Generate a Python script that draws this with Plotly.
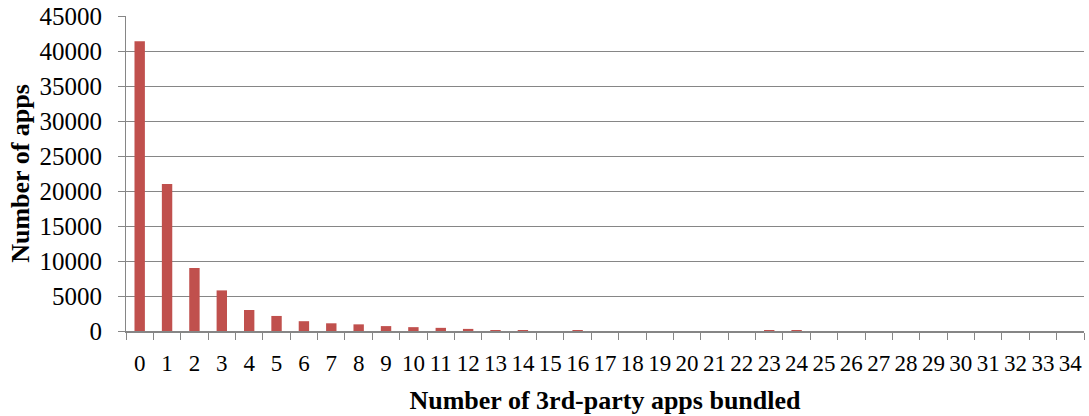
import plotly.graph_objects as go

categories = [str(i) for i in range(35)]
apps = [41400, 21000, 9000, 5800, 3000, 2150, 1400, 1100, 950, 700,
        550, 450, 300, 90, 60, 0, 30, 0, 0, 0,
        0, 0, 0, 20, 20, 0, 0, 0, 0, 0,
        0, 0, 0, 0, 0]
y_ticks = [0, 5000, 10000, 15000, 20000, 25000, 30000, 35000, 40000, 45000]

grey = "#868686"
font = "Liberation Serif, Times New Roman, serif"

fig = go.Figure(go.Bar(x=categories, y=apps, marker=dict(color="#C0504D", line=dict(width=0))))

fig.update_layout(
    width=1089, height=416,
    margin=dict(l=126, r=5, t=16, b=85),
    paper_bgcolor="white", plot_bgcolor="white",
    bargap=0.62, showlegend=False,
    font=dict(family=font, color="black", size=24),
)
fig.update_xaxes(
    type="category", tickangle=0, automargin=False,
    tickmode="array", tickvals=categories, ticktext=categories,
    showline=True, linecolor=grey, linewidth=2,
    ticks="outside", tickson="boundaries", ticklen=7, tickcolor=grey, tickwidth=1,
    ticklabelstandoff=10,
    tickfont=dict(family=font, size=23, color="black"),
    title=dict(text="<b>Number of 3rd-party apps bundled</b>", font=dict(family=font, size=26), standoff=16),
    showgrid=False,
)
fig.update_yaxes(
    range=[0, 45000], tickvals=y_ticks, ticktext=[str(v) for v in y_ticks],
    automargin=False,
    showline=True, linecolor=grey, linewidth=1,
    ticks="outside", ticklen=7, tickcolor=grey,
    ticklabelstandoff=11,
    showgrid=True, gridcolor=grey, gridwidth=1,
    tickfont=dict(family=font, size=25, color="black"),
    title=dict(text="<b>Number of apps</b>", font=dict(family=font, size=26), standoff=2),
    zeroline=False,
)

fig.write_html("out.html", config={"displayModeBar": False},
               post_script="document.body.style.margin='0px';")
